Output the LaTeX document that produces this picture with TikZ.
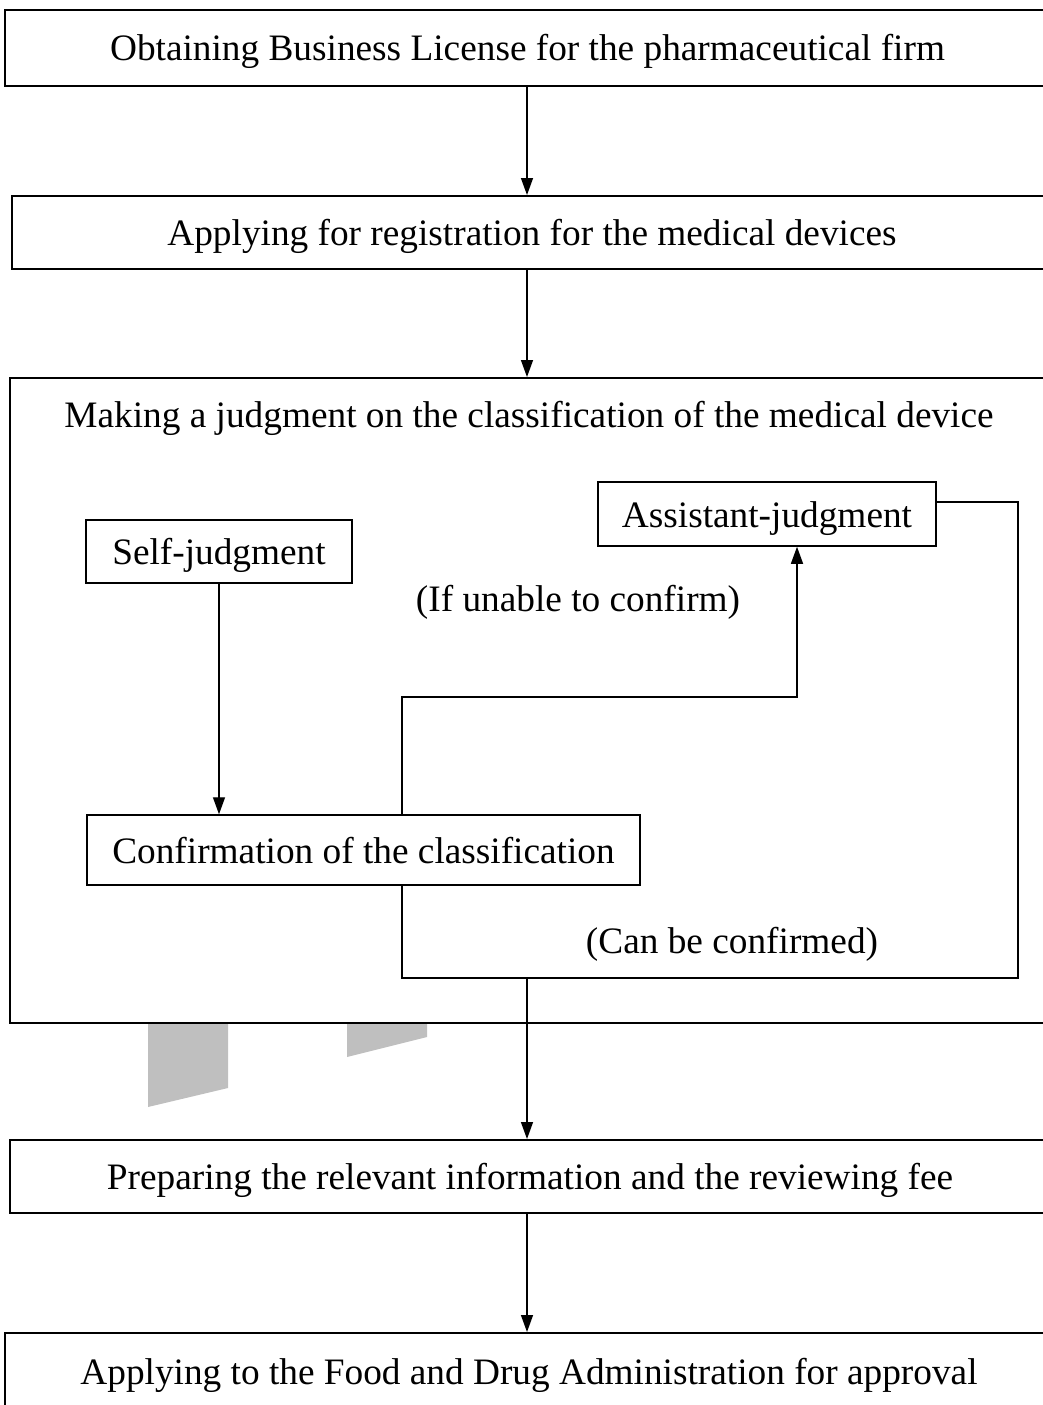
\documentclass[tikz,border=0pt]{standalone}
\usepackage{fontspec}
\setmainfont{Liberation Serif}
\usepackage{tikz}
\usetikzlibrary{arrows.meta, positioning}

\tikzset{
	stepbox/.style={draw, line width=2pt, inner sep=0pt, text height=30pt, text depth=4pt, font=\fontsize{37.3}{40}\selectfont},
	subbox/.style={draw, line width=1.5pt, inner sep=0pt, text height=30pt, text depth=4pt, font=\fontsize{37.3}{40}\selectfont},
	lbl/.style={inner sep=0pt, text height=30pt, text depth=4pt, font=\fontsize{37.3}{40}\selectfont},
	wire/.style={line width=1.4pt},
	arr/.style={line width=1.4pt, -{Triangle[length=17pt, width=12pt]}},
}

\begin{document}
\begin{tikzpicture}[x=1pt, y=-1pt]
		\useasboundingbox (0,0) rectangle (1042,1405);
		% Paths, nodes and wires:
		\fill[gray!50] (148,1024) -- (228,1024) -- (228,1088) -- (148,1107) -- cycle;
		\fill[gray!50] (347,1024) -- (427,1024) -- (427,1037) -- (347,1057) -- cycle;
		\node[stepbox, minimum width=1045pt, minimum height=76pt](N1) at (527.5, 48){Obtaining Business License for the pharmaceutical firm};
		\node[stepbox, minimum width=1040pt, minimum height=73pt](N2) at (532, 232.5){Applying for registration for the medical devices};
		\node[stepbox, minimum width=1040pt, minimum height=645pt](N3) at (530, 700.5){};
		\node[lbl](N3t) at (529, 414){Making a judgment on the classification of the medical device};
		\node[subbox, minimum width=266pt, minimum height=63pt](N4) at (219, 551.5){Self-judgment};
		\node[subbox, minimum width=338pt, minimum height=64pt](N5) at (767, 514){Assistant-judgment};
		\node[subbox, minimum width=553pt, minimum height=70pt](N6) at (363.5, 850){Confirmation of the classification};
		\node[lbl](L1) at (578, 598){(If unable to confirm)};
		\node[lbl](L2) at (732, 940){(Can be confirmed)};
		\node[stepbox, minimum width=1040pt, minimum height=73pt](N7) at (530, 1176.5){Preparing the relevant information and the reviewing fee};
		\node[stepbox, minimum width=1045pt, minimum height=90pt](N8) at (527.5, 1378){};
		\node[lbl](N8t) at (529, 1371){Applying to the Food and Drug Administration for approval};
		\coordinate (B1) at (402, 697);
		\coordinate (B2) at (797, 697);
		\coordinate (B3) at (1018, 502);
		\coordinate (B4) at (1018, 978);
		\coordinate (B5) at (402, 978);
		\coordinate (B6) at (527, 978);
		\draw[arr] (N1.south -| B6) -- (N2.north -| B6);
		\draw[arr] (N2.south -| B6) -- (N3.north -| B6);
		\draw[arr] (N4.south) -- (N6.north -| N4);
		\draw[arr] (N6.north -| B1) -- (B1) -- (B2) -- (N5.south -| B2);
		\draw[wire] (N5.east |- B3) -- (B3) -- (B4) -- (B5) -- (N6.south -| B5);
		\draw[arr] (B6) -- (N7.north -| B6);
		\draw[arr] (N7.south -| B6) -- (N8.north -| B6);
	\end{tikzpicture}
\end{document}
